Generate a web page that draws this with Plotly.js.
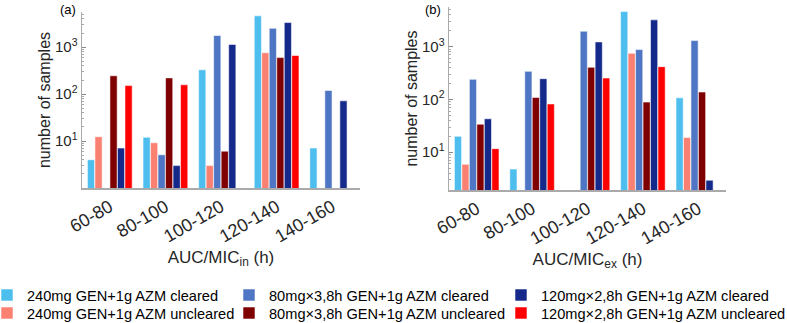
<!DOCTYPE html>
<html>
<head>
<meta charset="utf-8">
<script src="https://cdn.plot.ly/plotly-3.0.1.min.js"></script>
<style>html,body{margin:0;padding:0;background:#fff;}#chart{width:787px;height:323px;}</style>
</head>
<body>
<div id="chart"></div>
<script>
const categories = ['60-80', '80-100', '100-120', '120-140', '140-160'];
const seriesNames = [
  '240mg GEN+1g AZM cleared',
  '240mg GEN+1g AZM uncleared',
  '80mg×3,8h GEN+1g AZM cleared',
  '80mg×3,8h GEN+1g AZM uncleared',
  '120mg×2,8h GEN+1g AZM cleared',
  '120mg×2,8h GEN+1g AZM uncleared'
];
const seriesColors = ['#4DBEEE', '#FA8072', '#4F76C4', '#7F0000', '#15298A', '#FF0000'];

// panel (a): AUC/MIC_in
const inGen240Cleared   = [4.0, 12, 330, 4650, 7.1];
const inGen240Uncleared = [12.4, 9.2, 3.0, 760, null];
const inGen80Cleared    = [null, 5.1, 1775, 2530, 120];
const inGen80Uncleared  = [246, 222, 6.1, 600, null];
const inGen120Cleared   = [7.1, 3.0, 1145, 3350, 72];
const inGen120Uncleared = [152, 158, null, 665, null];

// panel (b): AUC/MIC_ex
const exGen240Cleared   = [20, 4.8, null, 4620, 107];
const exGen240Uncleared = [5.9, null, null, 747, 19];
const exGen80Cleared    = [240, 340, 1955, 877, 1300];
const exGen80Uncleared  = [34, 109, 405, 89, 138];
const exGen120Cleared   = [43, 247, 1227, 3210, 2.95];
const exGen120Uncleared = [11.7, 82, 254, 417, null];

const yTickVals = [10, 100, 1000];
const yTickText = ['10<sup>1</sup>', '10<sup>2</sup>', '10<sup>3</sup>'];

const inSeries = [inGen240Cleared, inGen240Uncleared, inGen80Cleared, inGen80Uncleared, inGen120Cleared, inGen120Uncleared];
const exSeries = [exGen240Cleared, exGen240Uncleared, exGen80Cleared, exGen80Uncleared, exGen120Cleared, exGen120Uncleared];
const legendIds = ['legend', 'legend2', 'legend3', 'legend4', 'legend5', 'legend6'];

const minorVals = [];
for (let d = 1; d <= 1000; d *= 10) { for (let k = 2; k <= 9; k++) minorVals.push(k * d); }

const traces = [];
inSeries.forEach((vals, i) => {
  traces.push({
    type: 'bar', x: categories, y: vals, name: seriesNames[i],
    marker: {color: seriesColors[i], line: {color: 'rgba(255,255,255,0.55)', width: 1}},
    xaxis: 'x', yaxis: 'y', legend: legendIds[i], legendgroup: 's' + i, showlegend: true
  });
});
exSeries.forEach((vals, i) => {
  traces.push({
    type: 'bar', x: categories, y: vals, name: seriesNames[i],
    marker: {color: seriesColors[i], line: {color: 'rgba(255,255,255,0.55)', width: 1}},
    xaxis: 'x2', yaxis: 'y2', legendgroup: 's' + i, showlegend: false
  });
});

const fam = 'Liberation Sans, Arial, Helvetica, sans-serif';
function xAxis(domain, anchor, title) {
  return {
    domain: domain, anchor: anchor, type: 'category', range: [-0.5, 4.5], automargin: false,
    showline: true, linecolor: '#aaaaaa', linewidth: 1.5, ticks: '', showgrid: false, zeroline: false,
    tickangle: -30, tickfont: {size: 18, family: fam, color: '#262626'},
    title: {text: title, font: {size: 17, family: fam, color: '#262626'}, standoff: 5}
  };
}
function yAxis(domain, anchor, range) {
  return {
    domain: domain, anchor: anchor, type: 'log', range: range, automargin: false,
    showline: true, linecolor: '#aaaaaa', linewidth: 1.5, showgrid: false, zeroline: false,
    ticks: 'inside', ticklen: 4, tickcolor: '#888888',
    tickvals: yTickVals, ticktext: yTickText,
    tickfont: {size: 15, family: fam, color: '#262626'},
    minor: {tickvals: minorVals, ticks: 'inside', ticklen: 2, tickcolor: '#aaaaaa', showgrid: false},
    title: {text: 'number of samples', font: {size: 16, family: fam, color: '#262626'}, standoff: 0}
  };
}

function legendAt(px, py) {
  return {
    orientation: 'v', xanchor: 'left', yanchor: 'middle', x: px / 787, y: 1 - py / 323,
    font: {size: 14.6, family: fam, color: '#000'}, bgcolor: 'rgba(0,0,0,0)',
    itemwidth: 30, borderwidth: 0
  };
}

const layout = {
  width: 787, height: 323,
  margin: {l: 0, r: 0, t: 0, b: 0, autoexpand: false},
  paper_bgcolor: '#ffffff', plot_bgcolor: '#ffffff',
  font: {family: fam, color: '#262626'},
  barmode: 'group', bargap: 0.19, bargroupgap: 0.04,
  xaxis: xAxis([82 / 787, 360 / 787], 'y', 'AUC/MIC<sub>in</sub> (h)'),
  yaxis: yAxis([135 / 323, 311 / 323], 'x', [0, 3.75]),
  xaxis2: xAxis([449 / 787, 726 / 787], 'y2', 'AUC/MIC<sub>ex</sub> (h)'),
  yaxis2: yAxis([133 / 323, 316 / 323], 'x2', [0.285, 3.75]),
  legend: legendAt(-13, 295),
  legend2: legendAt(-13, 313),
  legend3: legendAt(229, 295),
  legend4: legendAt(229, 313),
  legend5: legendAt(501, 295),
  legend6: legendAt(501, 313),
  annotations: [
    {text: '(a)', xref: 'paper', yref: 'paper', x: 58 / 787, y: 1.0, xanchor: 'left', yanchor: 'top',
     showarrow: false, font: {size: 13, family: fam, color: '#000'}},
    {text: '(b)', xref: 'paper', yref: 'paper', x: 423 / 787, y: 1.0, xanchor: 'left', yanchor: 'top',
     showarrow: false, font: {size: 13, family: fam, color: '#000'}}
  ]
};

Plotly.newPlot('chart', traces, layout, {displayModeBar: false, staticPlot: true});
</script>
</body>
</html>
